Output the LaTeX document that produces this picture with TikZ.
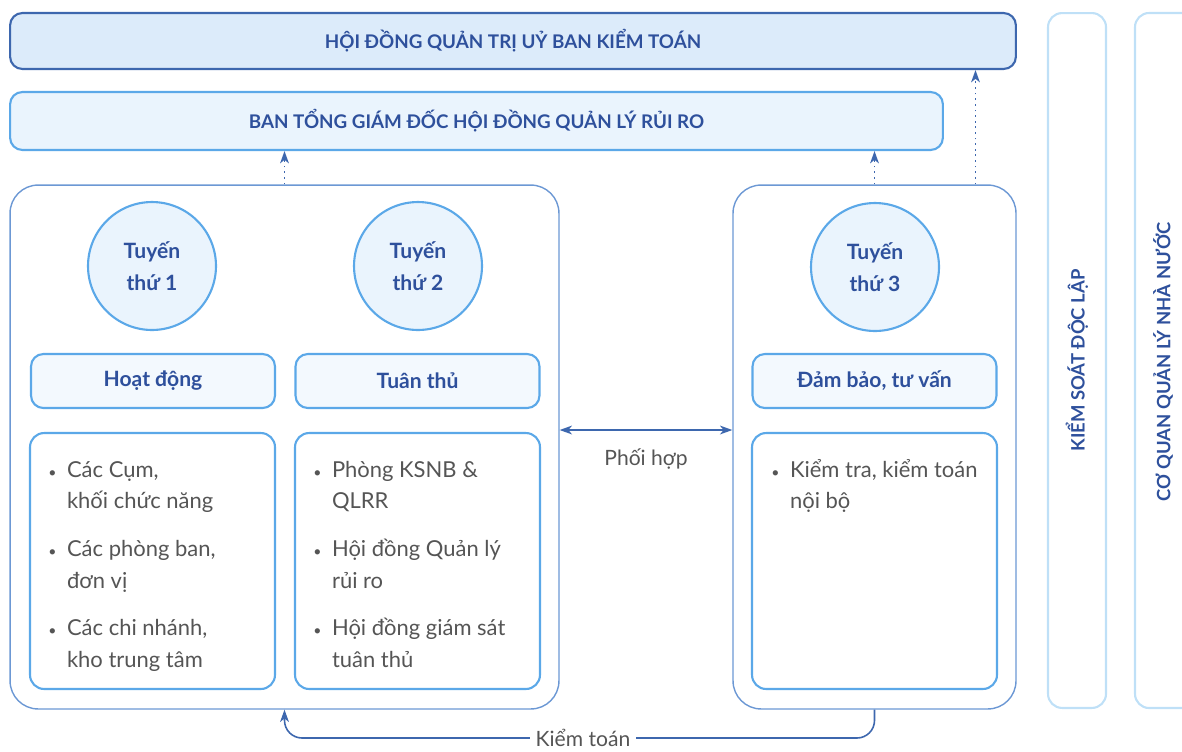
\documentclass[tikz,border=0pt]{standalone}
\usepackage{fontspec}
\setmainfont{Lato}
\usetikzlibrary{arrows.meta,positioning,calc}
\definecolor{navy}{RGB}{46,80,156}
\definecolor{boardline}{RGB}{61,103,174}
\definecolor{boardfill}{RGB}{220,235,250}
\definecolor{skyline}{RGB}{91,168,232}
\definecolor{skyfill}{RGB}{234,244,253}
\definecolor{palefill}{RGB}{243,249,254}
\definecolor{frameline}{RGB}{108,152,212}
\definecolor{sideline}{RGB}{191,224,247}
\definecolor{textgrey}{RGB}{85,85,85}
\newcommand{\bodyfont}{\fontsize{12.5}{18.1}\selectfont}
\newcommand{\bul}{{\footnotesize\textbullet}}

\begin{document}
\begin{tikzpicture}[x=0.02cm, y=-0.02cm,
    board/.style={draw=boardline, line width=1.2pt, fill=boardfill, rounded corners=7pt,
      minimum width=20.12cm, minimum height=1.12cm, font=\fontsize{10.7}{14}\selectfont\bfseries, text=navy},
    exec/.style={board, draw=skyline, fill=skyfill, minimum width=18.66cm, minimum height=1.16cm},
    frame/.style={draw=frameline, line width=0.8pt, rounded corners=16pt, minimum height=10.48cm},
    linecircle/.style={circle, draw=skyline, line width=1.2pt, fill=skyfill, minimum size=2.56cm,
      align=center, text=navy, font=\fontsize{12}{18}\selectfont\bfseries},
    rolebox/.style={draw=skyline, line width=1.2pt, fill=palefill, rounded corners=7pt,
      minimum width=4.88cm, minimum height=1.08cm, text=navy, font=\fontsize{12}{14}\selectfont\bfseries},
    listbox/.style={draw=skyline, line width=1.2pt, fill=white, rounded corners=8pt,
      minimum width=4.9cm, minimum height=5.12cm},
    listtext/.style={anchor=base west, inner sep=0pt, text=textgrey, font=\bodyfont},
    sidebox/.style={draw=sideline, line width=1.2pt, rounded corners=8pt, rotate=90,
      minimum width=13.9cm, minimum height=1.16cm, text=navy, font=\fontsize{10.5}{12}\selectfont\bfseries},
    note/.style={text=textgrey, font=\fontsize{12}{14}\selectfont},
    conn/.style={draw=boardline, line width=0.9pt, -{Stealth[length=7pt,width=5pt,inset=2pt]}},
    dots/.style={conn, dash pattern=on 1pt off 2.2pt}
  ]
    \useasboundingbox (0,0) rectangle (1182,751);

    %, Top boards ---
    \node[board] (hdqt) at (513,41) {HỘI ĐỒNG QUẢN TRỊ UỶ BAN KIỂM TOÁN};
    \node[exec] (btgd) at (476.5,121) {BAN TỔNG GIÁM ĐỐC HỘI ĐỒNG QUẢN LÝ RỦI RO};

    %, Frames of the three lines ---
    \node[frame, minimum width=10.98cm] (line12) at (284.5,447) {};
    \node[frame, minimum width=5.66cm] (line3) at (874.5,447) {};

    \node[linecircle] (c1) at (152,266) {Tuyến\\thứ 1};
    \node[linecircle] (c2) at (418,266) {Tuyến\\thứ 2};
    \node[linecircle] (c3) at (875,267) {Tuyến\\thứ 3};

    \node[rolebox] (r1) at (153,381) {Hoạt động};
    \node[rolebox] (r2) at (417.5,381) {Tuân thủ};
    \node[rolebox] (r3) at (874.5,381) {Đảm bảo, tư vấn};

    \node[listbox] (b1) at (152.5,561) {};
    \node[listbox] (b2) at (417.5,561) {};
    \node[listbox] (b3) at (874.5,561) {};

    \node[listtext] (t1) at (48,477) {\begin{tabular}[t]{@{}l@{\hspace{6pt}}l@{}}
      \bul & Các Cụm,\\ & khối chức năng\\[9pt]
      \bul & Các phòng ban,\\ & đơn vị\\[9pt]
      \bul & Các chi nhánh,\\ & kho trung tâm
    \end{tabular}};
    \node[listtext] (t2) at (313,477) {\begin{tabular}[t]{@{}l@{\hspace{6pt}}l@{}}
      \bul & Phòng KSNB \&\\ & QLRR\\[9pt]
      \bul & Hội đồng Quản lý\\ & rủi ro\\[9pt]
      \bul & Hội đồng giám sát\\ & tuân thủ
    \end{tabular}};
    \node[listtext] (t3) at (771,477) {\begin{tabular}[t]{@{}l@{\hspace{6pt}}l@{}}
      \bul & Kiểm tra, kiểm toán\\ & nội bộ
    \end{tabular}};

    %, Independent control and state bodies ---
    \node[sidebox] (ksdl) at (1077,360.5) {KIỂM SOÁT ĐỘC LẬP};
    \draw[sideline, line width=1.2pt, rounded corners=8pt] (1182,13) -- (1135,13) -- (1135,708) -- (1182,708);
    \node[rotate=90, text=navy, font=\fontsize{10.5}{12}\selectfont\bfseries] (cqql) at (1163,362) {CƠ QUAN QUẢN LÝ NHÀ NƯỚC};

    %, Reporting and coordination ---
    \draw[dots] (line12.north) -- (line12.north |- btgd.south);
    \draw[dots] (line3.north) -- (line3.north |- btgd.south);
    \draw[dots] ([xshift=2.02cm]line3.north) -- ([xshift=2.02cm]line3.north |- hdqt.south);
    \draw[conn, {Stealth[length=7pt,width=5pt,inset=2pt]}-{Stealth[length=7pt,width=5pt,inset=2pt]}]
      ([yshift=0.34cm]line12.east) -- ([yshift=0.34cm]line3.west);
    \node[note] (phoihop) at (646,459) {Phối hợp};
    \coordinate (kt) at (583,738);
    \draw[conn, rounded corners=10pt] (line3.south) |- (kt) -| (line12.south);
    \node[note, fill=white, inner xsep=3pt, inner ysep=0.5pt] (kiemtoan) at (kt) {Kiểm toán};
\end{tikzpicture}
\end{document}
